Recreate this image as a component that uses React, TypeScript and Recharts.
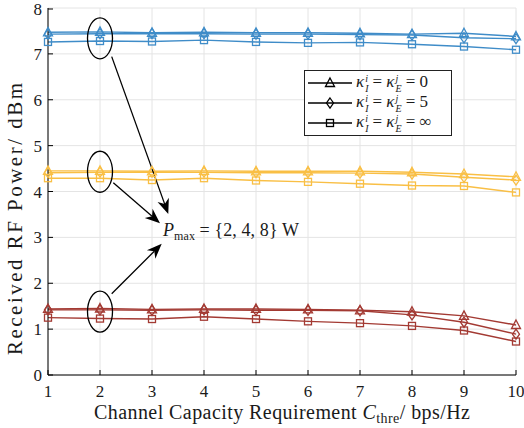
import React from "react";
import {
  LineChart,
  Line,
  XAxis,
  YAxis,
  CartesianGrid,
  Legend,
  ReferenceDot,
  ReferenceLine,
} from "recharts";

// x axis: channel capacity requirement (bps/Hz)
const capacity = [1, 2, 3, 4, 5, 6, 7, 8, 9, 10];
const yTicks = [0, 1, 2, 3, 4, 5, 6, 7, 8];

// Pmax = 8 W (blue)
const blueK0 = [7.47, 7.48, 7.46, 7.47, 7.46, 7.46, 7.45, 7.43, 7.45, 7.38];
const blueK5 = [7.43, 7.44, 7.44, 7.44, 7.43, 7.43, 7.42, 7.41, 7.35, 7.33];
const blueKinf = [7.26, 7.28, 7.27, 7.3, 7.26, 7.24, 7.25, 7.21, 7.16, 7.09];

// Pmax = 4 W (yellow)
const yellowK0 = [4.45, 4.45, 4.44, 4.45, 4.44, 4.44, 4.44, 4.42, 4.38, 4.32];
const yellowK5 = [4.41, 4.42, 4.42, 4.42, 4.41, 4.41, 4.4, 4.38, 4.31, 4.25];
const yellowKinf = [4.29, 4.29, 4.25, 4.29, 4.24, 4.21, 4.17, 4.13, 4.12, 3.98];

// Pmax = 2 W (red)
const redK0 = [1.44, 1.45, 1.43, 1.44, 1.44, 1.43, 1.41, 1.38, 1.29, 1.09];
const redK5 = [1.42, 1.42, 1.41, 1.42, 1.41, 1.41, 1.4, 1.31, 1.15, 0.89];
const redKinf = [1.25, 1.23, 1.22, 1.27, 1.22, 1.17, 1.13, 1.07, 0.97, 0.73];

// annotation anchors (data coords)
const ellipseCenters = [
  { x: 2, y: 7.34 },
  { x: 2, y: 4.43 },
  { x: 2, y: 1.38 },
];
const arrows = [
  { from: { x: 2.225, y: 6.94 }, to: { x: 3.313, y: 3.51 } },
  { from: { x: 2.256, y: 4.19 }, to: { x: 3.154, y: 3.31 } },
  { from: { x: 2.225, y: 1.77 }, to: { x: 3.187, y: 2.86 } },
];
const noteAt = { x: 3.21, y: 3.03 };

const BLUE = "#3f8cc8";
const YELLOW = "#f9bf45";
const RED = "#a33a33";
const FONT = "Liberation Serif, Times New Roman, Tinos, DejaVu Serif, Noto Serif, serif";
const TXT = "#1a1a1a";

const data = capacity.map((c, i) => ({
  c,
  bt: blueK0[i],
  bd: blueK5[i],
  bs: blueKinf[i],
  yt: yellowK0[i],
  yd: yellowK5[i],
  ys: yellowKinf[i],
  rt: redK0[i],
  rd: redK5[i],
  rs: redKinf[i],
}));

type Shape = "tri" | "dia" | "sq";

const marker = (shape: Shape, cx: number, cy: number, color: string, key?: any) => {
  if (shape === "tri")
    return (
      <path
        key={key}
        d={`M${cx},${cy - 5} L${cx + 4.5},${cy + 3.5} L${cx - 4.5},${cy + 3.5} Z`}
        fill="none"
        stroke={color}
        strokeWidth={1.3}
      />
    );
  if (shape === "dia")
    return (
      <path
        key={key}
        d={`M${cx},${cy - 5} L${cx + 3.5},${cy} L${cx},${cy + 5} L${cx - 3.5},${cy} Z`}
        fill="none"
        stroke={color}
        strokeWidth={1.3}
      />
    );
  return (
    <rect
      key={key}
      x={cx - 3.5}
      y={cy - 3.5}
      width={7}
      height={7}
      fill="none"
      stroke={color}
      strokeWidth={1.3}
    />
  );
};

const dotFn = (shape: Shape, color: string) => (p: any) =>
  marker(shape, p.cx, p.cy, color, p.key ?? `${shape}-${p.index}`);

const XTick = (p: any) => (
  <g>
    <line x1={p.x} y1={p.y} x2={p.x} y2={p.y - 5} stroke="#000" />
    <text x={p.x} y={p.y + 22} textAnchor="middle" fontSize={17} fontFamily={FONT} fill={TXT}>
      {p.payload.value}
    </text>
  </g>
);
const XTickTop = (p: any) => <line x1={p.x} y1={p.y} x2={p.x} y2={p.y + 5} stroke="#000" />;
const YTick = (p: any) => (
  <g>
    <line x1={p.x} y1={p.y} x2={p.x + 5} y2={p.y} stroke="#000" />
    <text x={p.x - 6} y={p.y + 6} textAnchor="end" fontSize={17} fontFamily={FONT} fill={TXT}>
      {p.payload.value}
    </text>
  </g>
);
const YTickRight = (p: any) => <line x1={p.x} y1={p.y} x2={p.x - 5} y2={p.y} stroke="#000" />;

const XLabel = (p: any) => {
  const vb = p.viewBox;
  return (
    <text
      x={vb.x + vb.width / 2}
      y={vb.y + 44}
      textAnchor="middle"
      fontSize={20}
      fontFamily={FONT}
      fill={TXT}
      textLength={376}
      lengthAdjust="spacing"
    >
      Channel Capacity Requirement{" "}
      <tspan fontStyle="italic">C</tspan>
      <tspan fontSize={14} dy={4}>thre</tspan>
      <tspan dy={-4}>/ bps/Hz</tspan>
    </text>
  );
};

const YLabel = () => (
  <text
    x={0}
    y={0}
    transform="translate(22,355) rotate(-90)"
    textAnchor="start"
    fontSize={21}
    fontFamily={FONT}
    fill={TXT}
    textLength={272}
    lengthAdjust="spacing"
  >
    Received RF Power/ dBm
  </text>
);

const Scripts = ({ sup, sub }: { sup: string; sub: string }) => (
  <span
    style={{
      display: "inline-flex",
      flexDirection: "column",
      fontSize: 10,
      lineHeight: "10px",
      fontStyle: "italic",
      verticalAlign: "middle",
      marginLeft: 1,
      marginRight: 4,
    }}
  >
    <span>{sup}</span>
    <span>{sub}</span>
  </span>
);

const legendRows: { shape: Shape; value: string }[] = [
  { shape: "tri", value: "0" },
  { shape: "dia", value: "5" },
  { shape: "sq", value: "∞" },
];

const LegendBox = () => (
  <div
    style={{
      border: "1px solid #222",
      background: "#fff",
      padding: "2px 4px 2px 2px",
      fontFamily: FONT,
      fontSize: 17,
      color: TXT,
      width: 140,
    }}
  >
    {legendRows.map((r) => (
      <div key={r.value} style={{ display: "flex", alignItems: "center", height: 20 }}>
        <svg width={46} height={14} style={{ flex: "none" }}>
          <line x1={1} y1={7} x2={45} y2={7} stroke="#000" strokeWidth={1.3} />
          {marker(r.shape, 23, 7, "#000")}
        </svg>
        <span style={{ marginLeft: 3, whiteSpace: "nowrap" }}>
          <i>κ</i>
          <Scripts sup="i" sub="I" />= <i>κ</i>
          <Scripts sup="j" sub="E" />= {r.value}
        </span>
      </div>
    ))}
  </div>
);

const ArrowShape = (p: any) => {
  const { x1, y1, x2, y2 } = p;
  const ang = Math.atan2(y2 - y1, x2 - x1);
  const L = 15;
  const W = 6;
  const bx = x2 - L * Math.cos(ang);
  const by = y2 - L * Math.sin(ang);
  const nx = x2 - 0.7 * L * Math.cos(ang);
  const ny = y2 - 0.7 * L * Math.sin(ang);
  const px = -Math.sin(ang) * W;
  const py = Math.cos(ang) * W;
  return (
    <g>
      <line x1={x1} y1={y1} x2={nx} y2={ny} stroke="#000" strokeWidth={1.3} />
      <path
        d={`M${x2},${y2} L${bx + px},${by + py} L${nx},${ny} L${bx - px},${by - py} Z`}
        fill="#000"
      />
    </g>
  );
};

export default function App() {
  return (
    <div style={{ position: "absolute", left: 0, top: 0, background: "#fff", fontFamily: FONT }}>
      <LineChart
        width={524}
        height={428}
        data={data}
        margin={{ top: 8, right: 8, left: 0, bottom: 0 }}
        style={{ fontFamily: FONT }}
      >
        <CartesianGrid stroke="#e4e4e4" strokeWidth={1} />
        <XAxis
          dataKey="c"
          type="number"
          domain={[1, 10]}
          ticks={capacity}
          height={53}
          stroke="#000"
          tickLine={false}
          tickSize={0}
          tickMargin={0}
          tick={<XTick />}
          label={<XLabel />}
        />
        <XAxis
          xAxisId="top"
          orientation="top"
          type="number"
          domain={[1, 10]}
          ticks={capacity}
          height={0}
          stroke="#000"
          tickLine={false}
          tickSize={0}
          tickMargin={0}
          tick={<XTickTop />}
        />
        <YAxis
          type="number"
          domain={[0, 8]}
          ticks={yTicks}
          width={48}
          stroke="#000"
          tickLine={false}
          tickSize={0}
          tickMargin={0}
          tick={<YTick />}
          label={<YLabel />}
        />
        <YAxis
          yAxisId="right"
          orientation="right"
          type="number"
          domain={[0, 8]}
          ticks={yTicks}
          width={0}
          stroke="#000"
          tickLine={false}
          tickSize={0}
          tickMargin={0}
          tick={<YTickRight />}
        />
        <Legend
          layout="vertical"
          align="center"
          verticalAlign="middle"
          wrapperStyle={{ left: 304, top: 70, width: 150 }}
          content={<LegendBox />}
        />

        <Line dataKey="bt" stroke={BLUE} strokeWidth={1.4} dot={dotFn("tri", BLUE)} isAnimationActive={false} />
        <Line dataKey="bd" stroke={BLUE} strokeWidth={1.4} dot={dotFn("dia", BLUE)} isAnimationActive={false} />
        <Line dataKey="bs" stroke={BLUE} strokeWidth={1.4} dot={dotFn("sq", BLUE)} isAnimationActive={false} />
        <Line dataKey="yt" stroke={YELLOW} strokeWidth={1.4} dot={dotFn("tri", YELLOW)} isAnimationActive={false} />
        <Line dataKey="yd" stroke={YELLOW} strokeWidth={1.4} dot={dotFn("dia", YELLOW)} isAnimationActive={false} />
        <Line dataKey="ys" stroke={YELLOW} strokeWidth={1.4} dot={dotFn("sq", YELLOW)} isAnimationActive={false} />
        <Line dataKey="rt" stroke={RED} strokeWidth={1.4} dot={dotFn("tri", RED)} isAnimationActive={false} />
        <Line dataKey="rd" stroke={RED} strokeWidth={1.4} dot={dotFn("dia", RED)} isAnimationActive={false} />
        <Line dataKey="rs" stroke={RED} strokeWidth={1.4} dot={dotFn("sq", RED)} isAnimationActive={false} />

        {ellipseCenters.map((e, i) => (
          <ReferenceDot
            key={`e${i}`}
            x={e.x}
            y={e.y}
            ifOverflow="visible"
            shape={(p: any) => (
              <ellipse cx={p.cx} cy={p.cy} rx={12.5} ry={20.5} fill="none" stroke="#000" strokeWidth={1.3} />
            )}
          />
        ))}
        {arrows.map((a, i) => (
          <ReferenceLine
            key={`a${i}`}
            segment={[a.from, a.to]}
            ifOverflow="visible"
            shape={<ArrowShape />}
          />
        ))}
        <ReferenceDot
          x={noteAt.x}
          y={noteAt.y}
          ifOverflow="visible"
          shape={(p: any) => (
            <text
              x={p.cx}
              y={p.cy}
              fontSize={18}
              fontFamily={FONT}
              fill={TXT}
              textLength={136}
              lengthAdjust="spacing"
            >
              <tspan fontStyle="italic">P</tspan>
              <tspan fontSize={12} dy={4}>max</tspan>
              <tspan dy={-4}> = {"{"}2, 4, 8{"}"} W</tspan>
            </text>
          )}
        />
      </LineChart>
    </div>
  );
}
